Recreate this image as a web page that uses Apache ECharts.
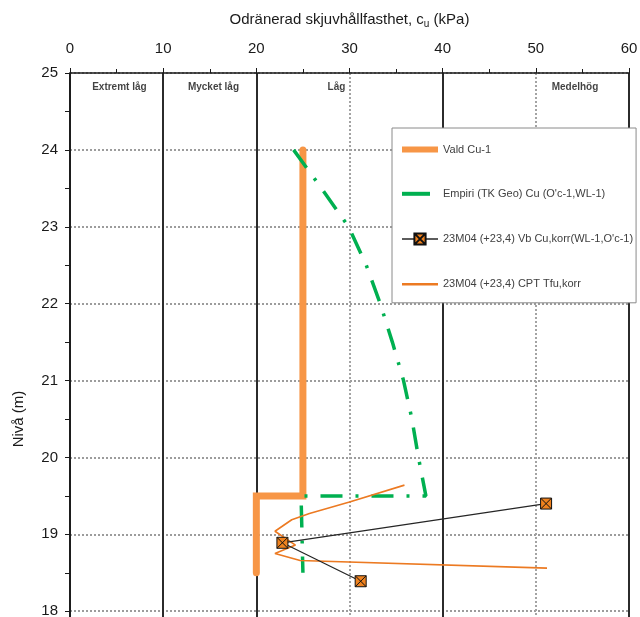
<!DOCTYPE html>
<html>
<head>
<meta charset="utf-8">
<script src="https://cdn.jsdelivr.net/npm/echarts@6/dist/echarts.min.js"></script>
<style>
  html, body { margin: 0; padding: 0; background: #ffffff; }
  #chart { width: 640px; height: 617px; }
</style>
</head>
<body>
<div id="chart"></div>
<script>
// Horizontal scale ticks (kPa)
const xTicks = [0, 10, 20, 30, 40, 50, 60];

// Strength class labels along the top of the plot
const zoneNames = ['Extremt låg', 'Mycket låg', 'Låg', 'Medelhög'];
const zoneX = [5.3, 15.4, 28.6, 54.2];
const zoneY = 24.82;

// Vald Cu-1
const valdCuX = [25, 25, 20, 20];
const valdCuY = [24, 19.5, 19.5, 18.5];

// Empiri (TK Geo) Cu
const empiriX = [24.0, 27.0, 29.9, 31.8, 33.3, 34.6, 35.8, 36.7, 37.4, 38.2, 24.8, 25.0];
const empiriY = [24.0, 23.5, 23.0, 22.5, 22.0, 21.5, 21.0, 20.5, 20.0, 19.5, 19.5, 18.5];

// 23M04 vane test, corrected
const vbX = [51.1, 22.8, 31.2];
const vbY = [19.40, 18.89, 18.39];

// 23M04 CPT, corrected
const cptX = [35.9, 30.0, 25.7, 23.8, 22.0, 24.2, 22.0, 24.7, 51.2];
const cptY = [19.64, 19.42, 19.27, 19.19, 19.04, 18.86, 18.75, 18.66, 18.56];

const FONT = '"Liberation Sans", Arial, sans-serif';
const pairs = (xs, ys) => xs.map((x, i) => [x, ys[i]]);

// Class boundaries are solid, the helper lines at 30 and 50 are dotted
const solidColors = xTicks.map(v => (v === 30 || v === 50) ? 'rgba(0,0,0,0)' : '#2b2b2b');
const dottedColors = xTicks.map(v => (v === 30 || v === 50) ? '#a3a3a3' : 'rgba(0,0,0,0)');

const seriesNames = ['Vald Cu-1', "Empiri (TK Geo) Cu (O'c-1,WL-1)", "23M04 (+23,4) Vb Cu,korr(WL-1,O'c-1)", '23M04 (+23,4) CPT Tfu,korr'];

const chart = echarts.init(document.getElementById('chart'), null, { renderer: 'canvas' });

chart.setOption({
  animation: false,
  backgroundColor: '#ffffff',
  textStyle: { fontFamily: FONT },
  grid: { left: 70, top: 73, width: 559, height: 692, containLabel: false, outerBoundsMode: 'none' },
  xAxis: [
    {
      type: 'value', position: 'top', min: 0, max: 60, interval: 10,
      name: 'Odränerad skjuvhållfasthet, c{sub|u} (kPa)',
      nameLocation: 'middle', nameGap: 44,
      nameTextStyle: {
        fontSize: 15, color: '#1a1a1a', fontFamily: FONT,
        rich: { sub: { fontSize: 10, color: '#1a1a1a', verticalAlign: 'bottom', padding: [8, 0, 0, 0], fontFamily: FONT } }
      },
      axisLine: { show: true, lineStyle: { color: '#1a1a1a', width: 1.5 } },
      axisTick: { show: true, inside: false, length: 5, lineStyle: { color: '#1a1a1a', width: 1 } },
      minorTick: { show: true, splitNumber: 2, length: 4, lineStyle: { color: '#1a1a1a', width: 1 } },
      axisLabel: { fontSize: 15, color: '#1a1a1a', margin: 17, fontFamily: FONT },
      splitLine: { show: true, lineStyle: { color: solidColors, width: 2 } }
    },
    {
      type: 'value', position: 'top', min: 0, max: 60, interval: 10,
      axisLine: { show: false }, axisTick: { show: false }, axisLabel: { show: false },
      splitLine: { show: true, lineStyle: { color: dottedColors, width: 2, type: [2, 2] } }
    }
  ],
  yAxis: {
    type: 'value', min: 16, max: 25, interval: 1,
    name: 'Nivå (m)', nameLocation: 'middle', nameGap: 44, nameRotate: 90,
    nameTextStyle: { fontSize: 15, color: '#1a1a1a', fontFamily: FONT },
    axisLine: { show: true, lineStyle: { color: '#1a1a1a', width: 1.5 } },
    axisTick: { show: true, inside: false, length: 5, lineStyle: { color: '#1a1a1a', width: 1 } },
    minorTick: { show: true, splitNumber: 2, length: 5, lineStyle: { color: '#1a1a1a', width: 1 } },
    axisLabel: { fontSize: 15, color: '#1a1a1a', margin: 12, fontFamily: FONT },
    splitLine: { show: true, lineStyle: { color: '#9c9c9c', width: 2, type: [2, 2] } }
  },
  legend: {
    orient: 'vertical', left: 392, top: 128,
    padding: [16, 3, 13, 7],
    itemWidth: 36, itemHeight: 14, itemGap: 33,
    backgroundColor: '#ffffff', borderColor: '#8a8a8a', borderWidth: 1, borderRadius: 0,
    textStyle: { fontSize: 11, color: '#404040', fontFamily: FONT },
    data: [
      { name: seriesNames[0], itemStyle: { opacity: 0 }, lineStyle: { width: 6, cap: 'butt' } },
      { name: seriesNames[1], itemStyle: { opacity: 0 }, lineStyle: { width: 4, type: [28, 40], cap: 'butt' } },
      { name: seriesNames[2], lineStyle: { width: 1.6 } },
      { name: seriesNames[3], itemStyle: { opacity: 0 }, lineStyle: { width: 2.5 } }
    ]
  },
  series: [
    {
      name: seriesNames[0], type: 'line', xAxisIndex: 0,
      data: pairs(valdCuX, valdCuY),
      symbol: 'none', showSymbol: false, z: 2,
      lineStyle: { color: '#F79646', width: 7, cap: 'round', join: 'miter' },
      itemStyle: { color: '#F79646' }
    },
    {
      name: seriesNames[1], type: 'line', xAxisIndex: 0,
      data: pairs(empiriX, empiriY),
      symbol: 'none', showSymbol: false, z: 3,
      lineStyle: { color: '#00B050', width: 3.5, type: [22, 13, 3, 13], cap: 'butt' },
      itemStyle: { color: '#00B050' }
    },
    {
      name: seriesNames[2], type: 'line', xAxisIndex: 0,
      data: pairs(vbX, vbY),
      symbol: 'path://M0 0H10V10H0Z M0 0L10 10 M10 0L0 10', symbolSize: 11, z: 5,
      lineStyle: { color: '#262626', width: 1.3 },
      itemStyle: { color: '#F0821E', borderColor: '#111111', borderWidth: 1 }
    },
    {
      name: seriesNames[3], type: 'line', xAxisIndex: 0,
      data: pairs(cptX, cptY),
      symbol: 'none', showSymbol: false, z: 4,
      lineStyle: { color: '#EC7A22', width: 1.6 },
      itemStyle: { color: '#EC7A22' }
    },
    {
      name: 'zones', type: 'scatter', xAxisIndex: 0,
      data: zoneNames.map((n, i) => ({ name: n, value: [zoneX[i], zoneY] })),
      symbolSize: 0, silent: true, z: 6,
      label: {
        show: true, position: 'inside', formatter: p => p.name,
        fontSize: 10, fontWeight: 'bold', color: '#111111', fontFamily: FONT
      }
    }
  ]
});
</script>
</body>
</html>
